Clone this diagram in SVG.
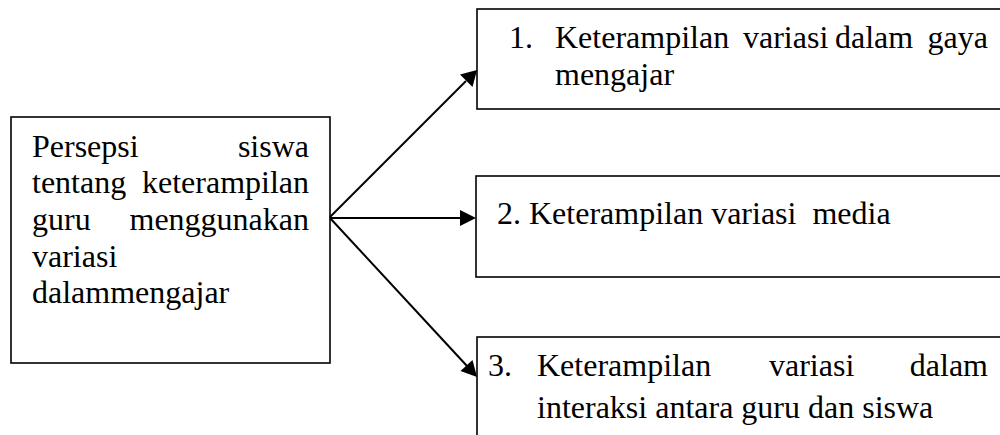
<svg xmlns="http://www.w3.org/2000/svg" width="1000" height="435" viewBox="0 0 1000 435" font-family="Liberation Serif, DejaVu Serif, serif">
<style>
.box{fill:#fff;stroke:#000;stroke-width:1.6}
text{font-family:'Liberation Serif','DejaVu Serif',serif;font-size:32px;fill:#000}
.e{text-anchor:end}
.conn{stroke:#000;stroke-width:2;fill:none}
.head{fill:#000}
</style>
<rect width="1000" height="435" fill="#fff"/>
<g id="n0">
<rect class="box" x="11" y="117" width="319" height="246"/>
<text x="32" y="157">Persepsi</text>
<text class="e" x="309" y="157">siswa</text>
<text x="32" y="193">tentang</text>
<text class="e" x="309" y="193">keterampilan</text>
<text x="32" y="230">guru</text>
<text class="e" x="309" y="230">menggunakan</text>
<text x="32" y="267">variasi</text>
<text x="32" y="303">dalammengajar</text>
</g>
<g id="n1">
<rect class="box" x="477" y="9" width="540" height="100"/>
<text x="509" y="48">1.</text>
<text x="555" y="48">Keterampilan</text>
<text x="743" y="48">variasi</text>
<text x="835" y="48">dalam</text>
<text class="e" x="988" y="48">gaya</text>
<text x="555" y="85">mengajar</text>
</g>
<g id="n2">
<rect class="box" x="476" y="176" width="540" height="101"/>
<text x="497" y="224" xml:space="preserve">2. Keterampilan variasi  media</text>
</g>
<g id="n3">
<rect class="box" x="477" y="337" width="540" height="120"/>
<text x="488" y="376">3.</text>
<text x="537" y="376">Keterampilan</text>
<text x="769" y="376">variasi</text>
<text class="e" x="988" y="376">dalam</text>
<text x="537" y="418">interaksi antara guru dan siswa</text>
</g>
<g id="connectors">
<line class="conn" x1="330" y1="217" x2="466" y2="81"/>
<polygon class="head" points="477,70 472.5,87 460,74.5"/>
<line class="conn" x1="330" y1="218" x2="462" y2="218"/>
<polygon class="head" points="476,218 460,210 460,226"/>
<line class="conn" x1="330" y1="218" x2="467" y2="366"/>
<polygon class="head" points="477,377 460.5,371 472.5,360"/>
</g>
</svg>
